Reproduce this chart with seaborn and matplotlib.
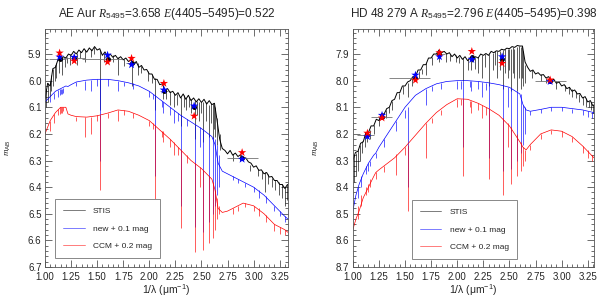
import numpy as np
import pandas as pd
import matplotlib
matplotlib.use("Agg")
import matplotlib.pyplot as plt
from matplotlib.ticker import MultipleLocator, FormatStrFormatter
import seaborn as sns

# ---- data ------------------------------------------------------------------
wave_stis = [1.000, 1.025, 1.050, 1.075, 1.100, 1.125, 1.150, 1.175, 1.200, 1.225,
             1.250, 1.275, 1.300, 1.325, 1.350, 1.375, 1.400, 1.425, 1.450, 1.475,
             1.500, 1.525, 1.550, 1.575, 1.600, 1.625, 1.650, 1.675, 1.700, 1.725,
             1.750, 1.775, 1.800, 1.825, 1.850, 1.875, 1.900, 1.925, 1.950, 1.975,
             2.000, 2.025, 2.050, 2.075, 2.100, 2.125, 2.150, 2.175, 2.200, 2.225,
             2.250, 2.275, 2.300, 2.325, 2.350, 2.375, 2.400, 2.425, 2.450, 2.475,
             2.500, 2.525, 2.550, 2.575, 2.600, 2.625, 2.650, 2.675, 2.700, 2.725,
             2.750, 2.775, 2.800, 2.825, 2.850, 2.875, 2.900, 2.925, 2.950, 2.975,
             3.000, 3.025, 3.050, 3.075, 3.100, 3.125, 3.150, 3.175, 3.200, 3.225,
             3.250, 3.275, 3.300, 3.325]

aeaur_stis = [6.07, 6.01, 6.02, 5.955, 5.95, 5.92, 5.925, 5.91, 5.915, 5.90,
              5.905, 5.89, 5.90, 5.885, 5.895, 5.88, 5.893, 5.877, 5.888, 5.872,
              5.885, 5.88, 5.905, 5.892, 5.91, 5.90, 5.912, 5.905, 5.918, 5.91,
              5.922, 5.915, 5.928, 5.922, 5.94, 5.928, 5.95, 5.943, 5.96, 5.958,
              5.975, 5.975, 5.995, 5.995, 6.015, 6.012, 6.035, 6.03, 6.045, 6.04,
              6.055, 6.045, 6.065, 6.05, 6.07, 6.055, 6.075, 6.065, 6.08, 6.068,
              6.082, 6.07, 6.088, 6.075, 6.09, 6.085, 6.15, 6.22, 6.255, 6.262,
              6.275, 6.262, 6.28, 6.272, 6.285, 6.278, 6.293, 6.29, 6.305, 6.31,
              6.325, 6.32, 6.337, 6.335, 6.35, 6.345, 6.362, 6.36, 6.375, 6.375,
              6.39, 6.39, 6.405, 6.39]

hd_stis = [8.30, 8.27, 8.265, 8.235, 8.23, 8.195, 8.195, 8.17, 8.17, 8.145,
           8.15, 8.125, 8.125, 8.105, 8.10, 8.075, 8.07, 8.045, 8.045, 8.02,
           8.02, 8.005, 8.00, 7.985, 7.985, 7.96, 7.96, 7.94, 7.94, 7.915,
           7.915, 7.90, 7.90, 7.885, 7.895, 7.89, 7.90, 7.895, 7.91, 7.90,
           7.915, 7.905, 7.92, 7.91, 7.925, 7.915, 7.93, 7.91, 7.915, 7.90,
           7.905, 7.898, 7.905, 7.89, 7.895, 7.888, 7.89, 7.882, 7.885, 7.878,
           7.88, 7.872, 7.875, 7.868, 7.87, 7.87, 7.93, 7.95, 7.965, 7.96,
           7.975, 7.97, 7.98, 7.977, 7.99, 7.985, 8.00, 7.995, 8.01, 8.005,
           8.02, 8.015, 8.03, 8.025, 8.04, 8.035, 8.05, 8.048, 8.065, 8.06,
           8.08, 8.075, 8.095, 8.085]

aeaur_model_x = [1.00, 1.05, 1.10, 1.15, 1.20, 1.22, 1.25, 1.30, 1.40, 1.50,
                 1.60, 1.70, 1.80, 1.90, 2.00, 2.10, 2.20, 2.30, 2.40, 2.50,
                 2.60, 2.63, 2.66, 2.70, 2.75, 2.80, 2.90, 3.00, 3.10, 3.20,
                 3.30, 3.33]
aeaur_new = [6.08, 6.06, 6.04, 6.03, 6.02, 6.022, 6.015, 6.005, 5.998, 5.995,
             5.995, 6.00, 6.008, 6.02, 6.04, 6.07, 6.10, 6.13, 6.155, 6.18,
             6.21, 6.24, 6.31, 6.34, 6.35, 6.36, 6.38, 6.40, 6.43, 6.47,
             6.51, 6.52]
aeaur_ccm = [6.20, 6.15, 6.12, 6.10, 6.10, 6.125, 6.13, 6.135, 6.137, 6.132,
             6.122, 6.11, 6.115, 6.13, 6.15, 6.185, 6.22, 6.26, 6.30, 6.33,
             6.37, 6.41, 6.48, 6.495, 6.49, 6.48, 6.46, 6.47, 6.50, 6.54,
             6.56, 6.57]

hd_model_x = [1.00, 1.03, 1.06, 1.10, 1.15, 1.20, 1.22, 1.25, 1.30, 1.35,
              1.40, 1.45, 1.50, 1.60, 1.70, 1.80, 1.90, 2.00, 2.10, 2.20,
              2.30, 2.40, 2.50, 2.60, 2.63, 2.66, 2.70, 2.80, 2.90, 3.00,
              3.10, 3.20, 3.31]
hd_new = [8.49, 8.43, 8.39, 8.35, 8.31, 8.28, 8.272, 8.25, 8.22, 8.19,
          8.16, 8.13, 8.10, 8.055, 8.03, 8.012, 8.003, 8.00, 8.00, 8.003,
          8.008, 8.015, 8.025, 8.05, 8.09, 8.11, 8.115, 8.108, 8.10, 8.10,
          8.105, 8.11, 8.12]
hd_ccm = [8.56, 8.52, 8.49, 8.44, 8.40, 8.36, 8.345, 8.335, 8.32, 8.305,
          8.29, 8.27, 8.25, 8.205, 8.16, 8.12, 8.09, 8.068, 8.07, 8.085,
          8.105, 8.13, 8.17, 8.23, 8.25, 8.26, 8.24, 8.20, 8.185, 8.19,
          8.21, 8.245, 8.29]

# absorption features: position, top (continuum) and bottom of each spike
aeaur_stis_lx = [1.01, 1.03, 1.045, 1.06, 1.08, 1.095, 1.11, 1.13, 1.16, 1.19,
                 1.24, 1.31, 1.38, 1.44, 1.524, 1.57, 1.65, 1.70, 1.76, 1.83,
                 1.89, 1.99, 2.057, 2.13, 2.20, 2.24, 2.304, 2.35, 2.40, 2.438,
                 2.48, 2.519, 2.545, 2.571, 2.607, 2.633, 2.652, 2.68, 2.80, 2.97,
                 3.04, 3.11, 3.18, 3.24, 3.27, 3.30, 3.32,
                 2.16, 2.27, 2.33, 2.38, 2.46, 2.50, 2.59, 2.62, 1.92, 2.03,
                 1.47, 1.34, 1.21, 2.87, 3.08, 3.14, 3.21]
aeaur_stis_ltop = [6.03, 6.01, 6.00, 5.98, 5.955, 5.94, 5.935, 5.925, 5.915, 5.91,
                   5.90, 5.895, 5.885, 5.88, 5.885, 5.895, 5.905, 5.91, 5.92, 5.93,
                   5.935, 5.965, 5.99, 6.02, 6.04, 6.045, 6.06, 6.065, 6.07, 6.075,
                   6.08, 6.08, 6.08, 6.09, 6.085, 6.10, 6.14, 6.20, 6.275, 6.315,
                   6.33, 6.345, 6.365, 6.38, 6.39, 6.40, 6.39,
                   6.03, 6.05, 6.055, 6.06, 6.075, 6.08, 6.085, 6.09, 5.945, 5.975,
                   5.875, 5.89, 5.91, 6.28, 6.34, 6.35, 6.375]
aeaur_stis_lbot = [6.10, 6.08, 6.06, 6.04, 6.02, 6.00, 5.99, 5.97, 5.98, 5.95,
                   5.94, 5.94, 5.93, 5.91, 6.11, 5.93, 5.93, 5.98, 5.945, 6.02,
                   5.98, 6.00, 6.11, 6.07, 6.09, 6.10, 6.17, 6.11, 6.12, 6.22,
                   6.15, 6.23, 6.15, 6.21, 6.22, 6.21, 6.24, 6.26, 6.30, 6.34,
                   6.36, 6.42, 6.40, 6.43, 6.44, 6.47, 6.45,
                   6.07, 6.09, 6.10, 6.10, 6.13, 6.12, 6.16, 6.18, 5.97, 6.01,
                   5.90, 5.915, 5.935, 6.30, 6.37, 6.39, 6.41]

aeaur_model_lx = [1.05, 1.083, 1.128, 1.143, 1.154, 1.163, 1.17, 1.30, 1.38, 1.44,
                  1.497, 1.524, 1.60, 1.702, 1.76, 1.848, 1.994, 2.032, 2.057, 2.122,
                  2.134, 2.202, 2.237, 2.279, 2.304, 2.36, 2.438, 2.484, 2.519, 2.571,
                  2.607, 2.633, 2.652, 2.667, 2.80, 2.85, 2.92, 3.00, 3.05, 3.12,
                  3.20, 3.25, 3.30]
aeaur_new_ltop = [6.06, 6.045, 6.035, 6.033, 6.03, 6.03, 6.028, 6.005, 6.0, 5.997,
                  5.995, 5.995, 5.995, 6.0, 6.005, 6.01, 6.04, 6.05, 6.055, 6.075,
                  6.08, 6.10, 6.11, 6.12, 6.13, 6.145, 6.165, 6.175, 6.185, 6.20,
                  6.21, 6.22, 6.24, 6.28, 6.36, 6.37, 6.385, 6.40, 6.41, 6.435,
                  6.47, 6.49, 6.51]
aeaur_new_lbot = [6.08, 6.07, 6.06, 6.055, 6.05, 6.05, 6.045, 6.02, 6.035, 6.04,
                  6.02, 6.30, 6.02, 6.04, 6.02, 6.03, 6.06, 6.07, 6.36, 6.10,
                  6.12, 6.13, 6.16, 6.15, 6.47, 6.17, 6.55, 6.25, 6.57, 6.53,
                  6.50, 6.47, 6.43, 6.40, 6.375, 6.385, 6.40, 6.42, 6.44, 6.46,
                  6.49, 6.51, 6.53]
aeaur_ccm_ltop = [6.15, 6.125, 6.105, 6.10, 6.10, 6.10, 6.10, 6.135, 6.137, 6.135,
                  6.13, 6.13, 6.12, 6.11, 6.11, 6.12, 6.15, 6.16, 6.165, 6.19,
                  6.19, 6.22, 6.23, 6.25, 6.26, 6.28, 6.31, 6.325, 6.335, 6.36,
                  6.38, 6.41, 6.44, 6.47, 6.48, 6.47, 6.46, 6.47, 6.48, 6.505,
                  6.54, 6.55, 6.56]
aeaur_ccm_lbot = [6.19, 6.16, 6.13, 6.125, 6.12, 6.12, 6.115, 6.15, 6.21, 6.20,
                  6.15, 6.41, 6.14, 6.15, 6.13, 6.14, 6.17, 6.18, 6.47, 6.21,
                  6.23, 6.25, 6.28, 6.28, 6.555, 6.31, 6.645, 6.40, 6.635, 6.61,
                  6.59, 6.56, 6.52, 6.50, 6.50, 6.49, 6.475, 6.49, 6.51, 6.53,
                  6.565, 6.575, 6.58]

hd_stis_lx = [1.01, 1.03, 1.05, 1.07, 1.09, 1.12, 1.16, 1.20, 1.25, 1.32,
              1.38, 1.44, 1.524, 1.57, 1.63, 1.70, 1.76, 1.83, 1.89, 1.99,
              2.057, 2.134, 2.20, 2.237, 2.304, 2.34, 2.38, 2.438, 2.484, 2.519,
              2.545, 2.571, 2.607, 2.633, 2.652, 2.72, 2.80, 2.95, 3.03, 3.10,
              3.17, 3.23, 3.28,
              2.10, 2.17, 2.27, 2.36, 2.41, 2.46, 2.50, 2.53, 2.59, 2.62,
              1.93, 2.02, 1.66, 1.48, 1.35, 1.14, 2.85, 3.07, 3.14, 3.20,
              3.26, 3.30]
hd_stis_ltop = [8.28, 8.27, 8.26, 8.24, 8.225, 8.20, 8.185, 8.165, 8.145, 8.11,
                8.075, 8.045, 8.01, 7.99, 7.965, 7.935, 7.91, 7.89, 7.895, 7.905,
                7.915, 7.92, 7.91, 7.905, 7.90, 7.895, 7.89, 7.885, 7.88, 7.88,
                7.88, 7.875, 7.875, 7.89, 7.94, 7.96, 7.975, 8.0, 8.015, 8.03,
                8.05, 8.065, 8.08,
                7.92, 7.915, 7.90, 7.89, 7.888, 7.88, 7.88, 7.875, 7.87, 7.87,
                7.90, 7.91, 7.955, 8.02, 8.10, 8.195, 7.99, 8.025, 8.04, 8.06,
                8.075, 8.09]
hd_stis_lbot = [8.38, 8.36, 8.34, 8.30, 8.27, 8.25, 8.22, 8.20, 8.17, 8.14,
                8.11, 8.07, 8.06, 8.02, 7.99, 7.98, 7.94, 7.93, 7.93, 7.93,
                8.00, 7.96, 7.97, 7.99, 8.02, 7.96, 7.99, 8.03, 7.99, 8.04,
                7.99, 8.04, 8.03, 8.02, 8.01, 7.99, 8.00, 8.03, 8.04, 8.06,
                8.08, 8.10, 8.11,
                7.96, 7.955, 7.95, 7.94, 7.96, 7.97, 7.96, 7.97, 7.99, 7.99,
                7.925, 7.935, 7.975, 8.05, 8.12, 8.23, 8.01, 8.05, 8.065, 8.09,
                8.10, 8.12]

hd_model_lx = [1.05, 1.083, 1.128, 1.143, 1.163, 1.22, 1.30, 1.415, 1.497, 1.524,
               1.702, 1.76, 1.848, 1.994, 2.032, 2.057, 2.122, 2.134, 2.202, 2.237,
               2.279, 2.304, 2.438, 2.484, 2.519, 2.571, 2.607, 2.633, 2.652, 2.70,
               2.80, 2.90, 3.00, 3.10, 3.20, 3.25, 3.29]
hd_new_ltop = [8.40, 8.36, 8.32, 8.31, 8.30, 8.27, 8.22, 8.15, 8.11, 8.10,
               8.03, 8.02, 8.01, 8.0, 8.0, 8.0, 8.0, 8.0, 8.003, 8.005,
               8.007, 8.008, 8.018, 8.023, 8.028, 8.04, 8.05, 8.09, 8.10, 8.115,
               8.108, 8.10, 8.10, 8.105, 8.11, 8.115, 8.118]
hd_new_lbot = [8.44, 8.40, 8.35, 8.34, 8.32, 8.29, 8.25, 8.19, 8.14, 8.40,
               8.09, 8.04, 8.03, 8.03, 8.03, 8.25, 8.025, 8.04, 8.03, 8.06,
               8.035, 8.29, 8.34, 8.10, 8.33, 8.30, 8.27, 8.24, 8.20, 8.13,
               8.12, 8.115, 8.115, 8.12, 8.13, 8.135, 8.14]
hd_ccm_ltop = [8.47, 8.43, 8.40, 8.39, 8.37, 8.345, 8.32, 8.275, 8.25, 8.24,
               8.16, 8.14, 8.11, 8.07, 8.068, 8.07, 8.075, 8.075, 8.085, 8.09,
               8.10, 8.105, 8.14, 8.16, 8.175, 8.20, 8.23, 8.25, 8.26, 8.24,
               8.20, 8.185, 8.19, 8.21, 8.245, 8.26, 8.28]
hd_ccm_lbot = [8.52, 8.47, 8.43, 8.42, 8.40, 8.37, 8.345, 8.355, 8.28, 8.49,
               8.29, 8.16, 8.13, 8.10, 8.09, 8.36, 8.10, 8.12, 8.11, 8.14,
               8.13, 8.37, 8.43, 8.25, 8.39, 8.36, 8.34, 8.32, 8.30, 8.26,
               8.22, 8.20, 8.21, 8.23, 8.27, 8.29, 8.30]

# photometry: filter positions, filter half-widths, observed and synthetic mags
phot_x = [1.14, 1.28, 1.60, 1.83, 2.14, 2.43, 2.89]
phot_xerr_lo = [0.10, 0.11, 0.25, 0.05, 0.04, 0.03, 0.145]
phot_xerr_hi = [0.06, 0.10, 0.14, 0.05, 0.04, 0.03, 0.15]
aeaur_obs = [5.917, 5.916, 5.918, 5.935, 6.040, 6.100, 6.290]
aeaur_new_phot = [5.911, 5.912, 5.904, 5.940, 6.035, 6.095, 6.295]
aeaur_ccm_phot = [5.896, 5.926, 5.930, 5.916, 6.010, 6.133, 6.270]
hd_obs = [8.205, 8.135, 7.990, 7.900, 7.910, 7.920, 8.000]
hd_new_phot = [8.210, 8.130, 7.979, 7.910, 7.920, 7.910, 8.003]
hd_ccm_phot = [8.197, 8.140, 7.998, 7.895, 7.890, 7.935, 7.997]

panels = [
    dict(title=r"AE Aur $R_{\mathrm{5495}}$=3.658 $E$(4405−5495)=0.522",
         stis=aeaur_stis, mx=aeaur_model_x, new=aeaur_new, ccm=aeaur_ccm,
         slx=aeaur_stis_lx, stop=aeaur_stis_ltop, sbot=aeaur_stis_lbot,
         mlx=aeaur_model_lx, ntop=aeaur_new_ltop, nbot=aeaur_new_lbot,
         ctop=aeaur_ccm_ltop, cbot=aeaur_ccm_lbot,
         obs=aeaur_obs, pnew=aeaur_new_phot, pccm=aeaur_ccm_phot,
         ylim=(6.7, 5.806), xlim=(1.0, 3.33),
         rect=[0.075, 0.107, 0.405, 0.796], leg=(0.041, 0.038)),
    dict(title=r"HD 48 279 A $R_{\mathrm{5495}}$=2.796 $E$(4405−5495)=0.398",
         stis=hd_stis, mx=hd_model_x, new=hd_new, ccm=hd_ccm,
         slx=hd_stis_lx, stop=hd_stis_ltop, sbot=hd_stis_lbot,
         mlx=hd_model_lx, ntop=hd_new_ltop, nbot=hd_new_lbot,
         ctop=hd_ccm_ltop, cbot=hd_ccm_lbot,
         obs=hd_obs, pnew=hd_new_phot, pccm=hd_ccm_phot,
         ylim=(8.7, 7.806), xlim=(1.0, 3.31),
         rect=[0.588, 0.107, 0.402, 0.796], leg=(0.245, 0.034)),
]

# ---- style -------------------------------------------------------------------
sns.set_style("ticks")
plt.rcParams["font.family"] = ["Liberation Sans", "DejaVu Sans"]
plt.rcParams["mathtext.fontset"] = "custom"
plt.rcParams["mathtext.rm"] = "Liberation Sans"
plt.rcParams["mathtext.it"] = "Liberation Serif:italic"
plt.rcParams["axes.edgecolor"] = "#555555"
plt.rcParams["axes.linewidth"] = 0.6

BLUE = "#0000ff"
RED = "#ff0000"

fig = plt.figure(figsize=(6, 2.99), dpi=100)

for p in panels:
    ax = fig.add_axes(p["rect"])

    sns.lineplot(x=wave_stis, y=p["stis"], ax=ax, color="black", lw=0.7,
                 sort=False, estimator=None, label="STIS")
    ax.vlines(p["slx"], p["stop"], p["sbot"], color="black", lw=0.45)

    sns.lineplot(x=p["mx"], y=p["new"], ax=ax, color=BLUE, lw=0.5,
                 sort=False, estimator=None, label="new + 0.1 mag")
    ax.vlines(p["mlx"], p["ntop"], p["nbot"], color=BLUE, lw=0.45)

    sns.lineplot(x=p["mx"], y=p["ccm"], ax=ax, color=RED, lw=0.5,
                 sort=False, estimator=None, label="CCM + 0.2 mag")
    ax.vlines(p["mlx"], p["ctop"], p["cbot"], color=RED, lw=0.45)

    ax.errorbar(phot_x, p["obs"], xerr=[phot_xerr_lo, phot_xerr_hi],
                yerr=0.004, fmt="o", ms=2.5, color="black", ecolor="0.45",
                elinewidth=0.6, capsize=0, zorder=4)
    sns.scatterplot(x=phot_x, y=p["pnew"], ax=ax, marker="*", s=40,
                    color=BLUE, edgecolor="none", zorder=5, legend=False)
    sns.scatterplot(x=phot_x, y=p["pccm"], ax=ax, marker="*", s=40,
                    color=RED, edgecolor="none", zorder=6, legend=False)

    ax.set_xlim(*p["xlim"])
    ax.set_ylim(*p["ylim"])
    ax.xaxis.set_major_locator(MultipleLocator(0.25))
    ax.xaxis.set_minor_locator(MultipleLocator(0.05))
    ax.yaxis.set_major_locator(MultipleLocator(0.1))
    ax.yaxis.set_minor_locator(MultipleLocator(0.02))
    ax.xaxis.set_major_formatter(FormatStrFormatter("%.2f"))
    ax.yaxis.set_major_formatter(FormatStrFormatter("%.1f"))
    ax.tick_params(which="both", direction="in", top=True, right=True,
                   labelsize=7, color="#333333", width=0.5)
    ax.tick_params(axis="x", pad=3.5)
    ax.tick_params(axis="y", pad=2.5)
    ax.tick_params(which="major", length=5)
    ax.tick_params(which="minor", length=2.5)

    ax.set_title(p["title"], fontsize=8.5, pad=9)
    ax.set_xlabel("1/λ (μm$^{-1}$)", fontsize=7.5)
    ax.xaxis.set_label_coords(0.5, -0.065)
    ax.set_ylabel(r"$m_{\mathrm{AB}}$", fontsize=6.5)
    ax.yaxis.set_label_coords(-0.13, 0.5)

    leg = ax.legend(loc="lower left", bbox_to_anchor=p["leg"], borderaxespad=0,
                    fontsize=6, frameon=True, fancybox=False, framealpha=1,
                    edgecolor="#888888", handlelength=2.6, handletextpad=1.0,
                    labelspacing=1.15, borderpad=0.95)
    leg.get_frame().set_linewidth(0.7)
    for h in leg.get_lines():
        h.set_linewidth(0.6)
        h.set_alpha(0.6)

fig.savefig("out.png", dpi=100)
